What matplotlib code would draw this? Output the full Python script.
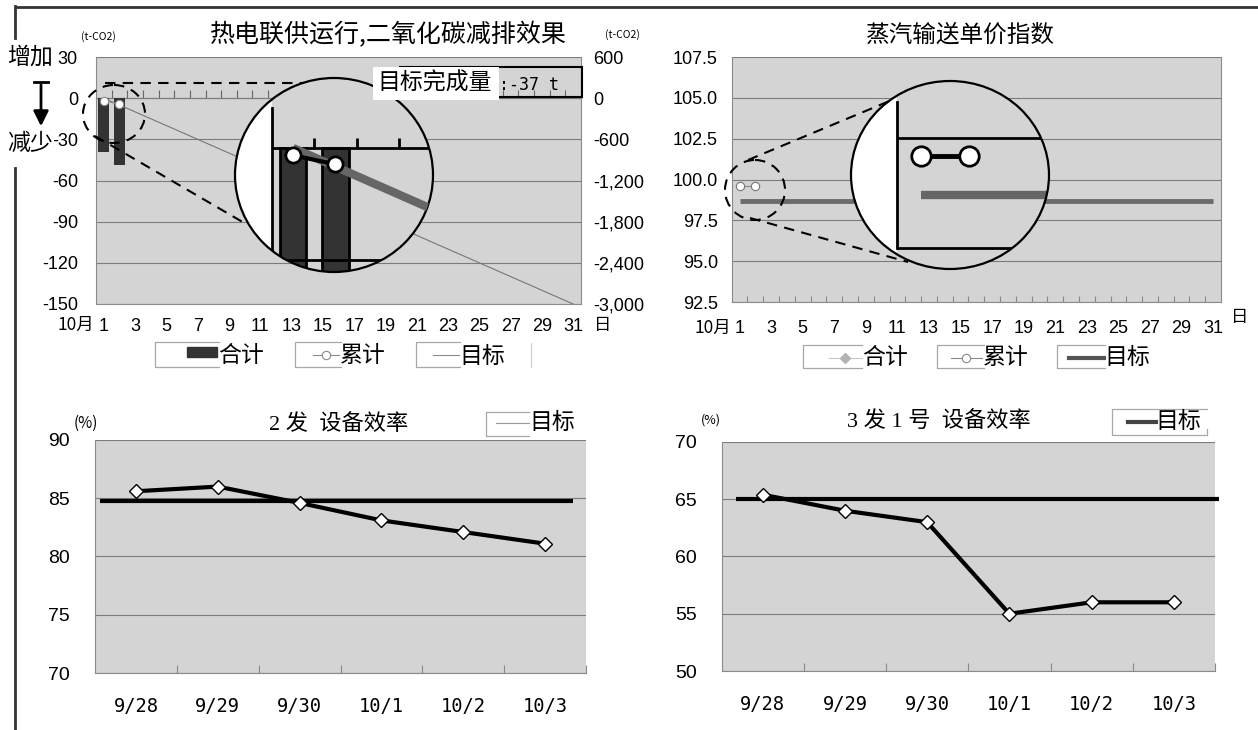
import numpy as np
import matplotlib
matplotlib.use('Agg')
import matplotlib.pyplot as plt
from matplotlib.patches import Ellipse, Rectangle
from matplotlib.ticker import StrMethodFormatter

plt.rcParams['font.family'] = ['Noto Sans CJK SC', 'DejaVu Sans']
plt.rcParams['axes.unicode_minus'] = False

# 热电联供 CO2 减排 (10月, t-CO2)
co2_days = [1, 2]
co2_daily = [-39, -49]                 # 合计
co2_cumul = list(np.cumsum(co2_daily))  # 累计
co2_target_days = [1, 31]
co2_target = [0, -3000]                # 目标
co2_done = -37

# 蒸汽输送单价指数
steam_days = [1, 2]
steam_cumul = [99.6, 99.6]
steam_target_days = [1, 31]
steam_target = [98.7, 98.7]

# 设备效率 (%)
dates = ['9/28', '9/29', '9/30', '10/1', '10/2', '10/3']
eff2 = [85.6, 86.0, 84.6, 83.1, 82.1, 81.1]
eff2_target = 84.8
eff31 = [65.4, 64.0, 63.0, 55.0, 56.0, 56.0]
eff31_target = 65.0

W, H = 1258, 730
BG = '#d4d4d4'
GRID = '#7c7c7c'
SPINE = '#8a8a8a'
NUM = 'Liberation Sans'


def box(l, t, r, b):
    return [l / W, 1 - b / H, (r - l) / W, (b - t) / H]


fig = plt.figure(figsize=(W / 100, H / 100), dpi=100)
fig.patch.set_facecolor('white')


def style(ax, size=13):
    ax.set_facecolor(BG)
    ax.set_axisbelow(True)
    ax.yaxis.grid(True, color=GRID, lw=0.8)
    ax.spines['top'].set_visible(False)
    for s in ['left', 'right', 'bottom']:
        ax.spines[s].set_color(SPINE)
        ax.spines[s].set_linewidth(0.8)
    ax.tick_params(axis='both', which='major', length=0, labelsize=size,
                   labelfontfamily=NUM)


# ---- 热电联供运行, 二氧化碳减排效果 ----
ax1 = fig.add_axes(box(96, 57, 581, 304))
style(ax1)
ax1.set_xlim(0.5, 31.5)
ax1.set_ylim(-150, 30)
ax1.set_yticks(range(-150, 31, 30))
ax1.set_xticks(range(1, 32, 2))
ax1.tick_params(axis='x', pad=10)
ax1.tick_params(axis='y', pad=13)
ax1.bar(co2_days, co2_daily, width=0.7, color='#333333', zorder=3)

zero = ax1.secondary_xaxis(0, transform=ax1.transData)
zero.set_xticks(np.arange(1.5, 31, 1))
zero.tick_params(direction='in', length=6, color='#666666', width=0.8,
                 labelbottom=False, labeltop=False)
for s in zero.spines.values():
    s.set_color('#666666')
    s.set_linewidth(0.8)

ax1r = ax1.twinx()
ax1r.set_ylim(-3000, 600)
ax1r.set_yticks(range(-3000, 601, 600))
ax1r.yaxis.set_major_formatter(StrMethodFormatter('{x:,.0f}'))
ax1r.tick_params(length=0, labelsize=13, pad=9, labelfontfamily=NUM)
for s in ax1r.spines.values():
    s.set_visible(False)
ax1r.plot(co2_target_days, co2_target, color='#777777', lw=0.8)
ax1r.plot(co2_days, co2_cumul, color='#8a8a8a', lw=0.8, marker='o', ms=6,
          mfc='white', mec='#8a8a8a', mew=0.8)

# ---- 蒸汽输送单价指数 ----
ax2 = fig.add_axes(box(731.7, 57, 1221, 302))
style(ax2)
ax2.set_xlim(0.5, 31.5)
ax2.set_ylim(92.5, 107.5)
ax2.set_yticks(np.arange(92.5, 107.6, 2.5))
ax2.yaxis.set_major_formatter(StrMethodFormatter('{x:.1f}'))
ax2.set_xticks(range(1, 32, 2))
ax2.set_xticks(np.arange(1.5, 31, 1), minor=True)
ax2.tick_params(axis='x', which='minor', direction='in', length=4,
                color=SPINE, width=0.8)
ax2.tick_params(axis='x', pad=13)
ax2.tick_params(axis='y', pad=10)
ax2.plot(steam_target_days, steam_target, color='#6b6b6b', lw=3.5,
         solid_capstyle='butt')
ax2.plot(steam_days, steam_cumul, color='#8a8a8a', lw=0.8, marker='o', ms=6,
         mfc='white', mec='#777777', mew=0.8)


# ---- 设备效率 ----
def eff_panel(rect, values, target, lo, hi, span):
    ax = fig.add_axes(rect)
    style(ax, size=14)
    ax.spines['right'].set_visible(False)
    ax.set_xlim(-0.5, 5.5)
    ax.set_ylim(lo, hi)
    ax.set_yticks(range(lo, hi + 1, 5))
    ax.set_xticks(range(len(dates)))
    ax.set_xticklabels(dates, fontfamily='DejaVu Sans Mono', fontsize=13.5)
    ax.set_xticks(np.arange(0.5, 5.6, 1), minor=True)
    ax.tick_params(axis='x', which='minor', direction='in', length=6,
                   color=SPINE, width=0.8)
    ax.tick_params(axis='x', pad=17)
    ax.tick_params(axis='y', pad=18)
    ax.hlines(target, span[0], span[1], color='black', lw=3, clip_on=False,
              zorder=3)
    ax.plot(range(len(values)), values, color='black', lw=3, marker='D',
            ms=7.5, mfc='white', mec='black', mew=1, zorder=4)
    return ax


ax3 = eff_panel(box(95, 440, 586, 673), eff2, eff2_target, 70, 90,
                (-0.44, 5.34))
ax4 = eff_panel(box(721.5, 442, 1215, 671), eff31, eff31_target, 50, 70,
                (-0.32, 5.55))

# ---- 放大镜 ----
def magnifier(rect, xlim, ylim, vline):
    ax = fig.add_axes(rect, zorder=10)
    ax.set_xlim(*xlim)
    ax.set_ylim(*ylim)
    ax.axis('off')
    ax.add_patch(Ellipse((0.5, 0.5), 1, 1, transform=ax.transAxes,
                         facecolor='white', edgecolor='none', zorder=0))
    ax.axvspan(0.5, 10, color=BG, zorder=1)
    ax.axvline(0.5, ymin=vline[0], ymax=vline[1], color='black', lw=2,
               zorder=5)
    return ax


def clip_round(ax):
    clip = Ellipse((0.5, 0.5), 1, 1, transform=ax.transAxes)
    for art in ax.lines + ax.patches + ax.collections:
        art.set_clip_path(clip)


in1 = magnifier(box(235, 78, 433, 272), (-0.375, 4.306), (-33.3, 18.8),
                (0.088, 0.845))
in1.hlines([0, -30], 0.5, 10, color='black', lw=2, zorder=4)
in1.vlines(np.arange(1.5, 6, 1), 0, 2.7, color='black', lw=2, zorder=4)
in1.bar(co2_days, co2_daily, width=0.62, color='#333333', edgecolor='black',
        lw=2, zorder=3)
clip_round(in1)
in1r = in1.twinx()
in1r.set_ylim(-33.3 * 20, 18.8 * 20)
in1r.axis('off')
in1r.plot(co2_target_days, co2_target, color='#666666', lw=6,
          solid_capstyle='butt')
in1r.plot(co2_days, co2_cumul, color='black', lw=3, marker='o', ms=11,
          mfc='white', mec='black', mew=2)
clip_round(in1r)
in1r.add_patch(Ellipse((0.5, 0.5), 1, 1, transform=in1r.transAxes,
                       fill=False, edgecolor='black', lw=1.6, clip_on=False))

in2 = magnifier(box(851, 81, 1049, 269), (-0.458, 3.667), (97.025, 101.30),
                (0.112, 0.888))
in2.hlines([97.5, 100.0], 0.5, 10, color='black', lw=2, zorder=4)
in2.plot(steam_target_days, steam_target, color='#666666', lw=6,
         solid_capstyle='butt', zorder=3)
in2.plot(steam_days, steam_cumul, color='black', lw=3.5, marker='o', ms=14,
         mfc='white', mec='black', mew=2, zorder=6)
clip_round(in2)
in2.add_patch(Ellipse((0.5, 0.5), 1, 1, transform=in2.transAxes,
                      fill=False, edgecolor='black', lw=1.6, clip_on=False,
                      zorder=10))

# ---- 叠加层: 边框, 虚线, 图例, 标题 ----
under = fig.add_axes([0, 0, 1, 1], zorder=5)
under.set_xlim(0, W)
under.set_ylim(H, 0)
under.axis('off')

over = fig.add_axes([0, 0, 1, 1], zorder=20)
over.set_xlim(0, W)
over.set_ylim(H, 0)
over.axis('off')

# outer frame
under.plot([15, W], [7, 7], color='#333333', lw=2, solid_capstyle='butt')
under.plot([15, 15], [6, 38], color='#333333', lw=2)
under.plot([15, 15], [168, H], color='#333333', lw=2)

dash = dict(color='black', lw=1.5, ls=(0, (5, 3.5)))
under.add_patch(Ellipse((114, 114), 62, 58, fill=False, **dash))
under.plot([105, 330], [83, 83], **dash)
under.plot([95, 246], [136, 224], **dash)
under.add_patch(Ellipse((755, 190), 60, 60, fill=False, **dash))
under.plot([748, 892], [160, 100], **dash)
under.plot([750, 908], [218, 262], **dash)

# titles and units
under.text(388, 35, '热电联供运行,二氧化碳减排效果', fontsize=18,
           ha='center', va='center')
under.text(960, 35, '蒸汽输送单价指数', fontsize=17, ha='center', va='center')
ttl = dict(family=['Liberation Serif', 'Noto Sans CJK SC'], fontsize=16,
           ha='center', va='center')
under.text(339, 425, '2 发  设备效率', **ttl)
under.text(939, 422, '3 发 1 号  设备效率', **ttl)
under.text(98, 37, '(t-CO2)', fontsize=7.5, ha='center', va='center')
under.text(622, 35, '(t-CO2)', fontsize=7.5, ha='center', va='center')
under.text(86, 423, '(%)', fontsize=11, ha='center', va='center')
under.text(711, 420, '(%)', fontsize=9, ha='center', va='center')

ax_lab = dict(fontsize=12.5, ha='center', va='center')
under.text(76, 325, '10月', **ax_lab)
under.text(603, 325, '日', **ax_lab)
under.text(713, 328, '10月', **ax_lab)
under.text(1240, 317, '日', **ax_lab)

# 增加 / 减少
lab_bg = dict(facecolor='white', edgecolor='none', pad=1)
under.text(30, 57, '增加', fontsize=16.5, ha='center', va='center',
           bbox=lab_bg)
under.text(30, 143, '减少', fontsize=16.5, ha='center', va='center',
           bbox=lab_bg)
under.plot([34, 48], [82, 82], color='black', lw=2)
under.annotate('', xy=(41, 129), xytext=(41, 82),
               arrowprops=dict(arrowstyle='-|>,head_length=0.9,head_width=0.45',
                               color='black', lw=2))

# legends
frame = dict(color='#a8a8a8', lw=0.9)


def key_frame(l, r, t, b):
    under.plot([r, l, l, r], [t, t, b, b], **frame)


leg = dict(fontsize=16.5, ha='left', va='center')
key_frame(155, 219, 342, 367)
under.add_patch(Rectangle((187, 347), 30, 10, color='#333333'))
under.text(218, 356, '合计', **leg)
key_frame(295, 341, 342, 367)
under.plot([313, 339], [355, 355], color='#8a8a8a', lw=0.8)
under.plot([326], [355], marker='o', ms=6, mfc='white', mec='#8a8a8a', mew=0.8)
under.text(340, 356, '累计', **leg)
key_frame(416, 460, 342, 367)
under.plot([433, 459], [355, 355], color='#8a8a8a', lw=0.8)
under.text(459, 356, '目标', **leg)
under.plot([531, 531], [343, 367], color='#d0d0d0', lw=0.8)

key_frame(803, 862, 345, 368)
under.plot([829, 862], [358, 358], color='#c8c8c8', lw=0.8)
under.plot([845], [358], marker='D', ms=5, color='#b4b4b4')
under.text(862, 357, '合计', **leg)
key_frame(937, 984, 345, 368)
under.plot([951, 982], [358, 358], color='#8a8a8a', lw=0.8)
under.plot([966], [358], marker='o', ms=6, mfc='white', mec='#8a8a8a', mew=0.8)
under.text(983, 357, '累计', **leg)
key_frame(1057, 1105, 345, 368)
under.plot([1069, 1104], [358, 358], color='#555555', lw=3)
under.text(1104, 357, '目标', **leg)

key_frame(486, 529, 412, 436)
under.plot([496, 529], [423, 423], color='#999999', lw=0.8)
under.text(529, 422, '目标', **leg)
key_frame(1112, 1207, 409, 435)
under.plot([1207, 1207], [429, 435], **frame)
under.plot([1128, 1156], [422, 422], color='#444444', lw=3)
under.text(1155, 421, '目标', **leg)

# 目标完成量
over.add_patch(Rectangle((400, 67), 182, 30, fill=False, edgecolor='black',
                         lw=1.5))
over.add_patch(Rectangle((373, 67), 126, 33, facecolor='white',
                         edgecolor='none'))
over.text(377, 83, '目标完成量', fontsize=16.5, ha='left', va='center')
over.text(499, 85, f':{co2_done} t', family='DejaVu Sans Mono', fontsize=12,
          ha='left', va='center')

fig.savefig('out.png', dpi=100)
